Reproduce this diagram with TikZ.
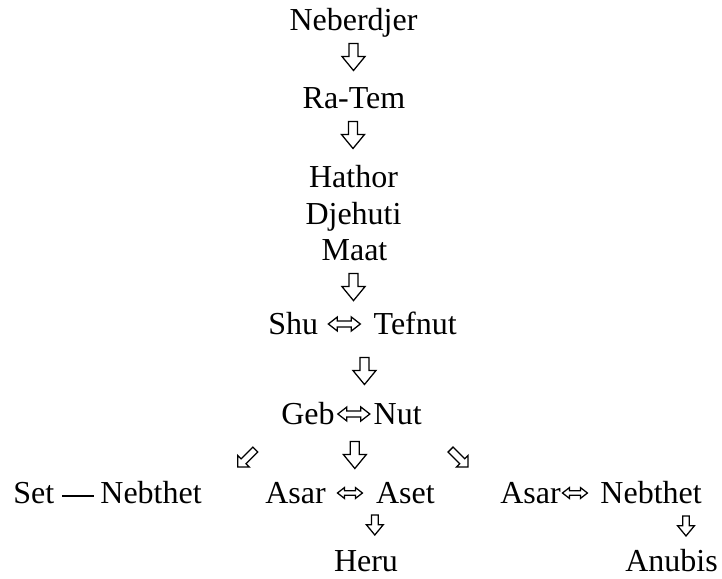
\documentclass[tikz,border=0pt]{standalone}
\usepackage{fontspec}
\setmainfont{Liberation Serif}
\usetikzlibrary{positioning}

\begin{document}
\begin{tikzpicture}[
    x=0.75pt, y=-0.75pt,
    god/.style={inner sep=0pt, font=\fontsize{24}{27.6}\selectfont},
    glyph/.style={draw, line width=0.95pt, line join=miter, fill=white},
    downarr/.pic={\draw[glyph] (-4.5,-13.5) -- (4.5,-13.5) -- (4.5,-0.5) -- (11.5,-0.5) -- (0,13.5) -- (-11.5,-0.5) -- (-4.5,-0.5) -- cycle;},
    diagarr/.pic={\draw[glyph] (-10,10) -- (-10,-1.5) -- (-6.7,1.8) -- (5,-9.9) -- (9.9,-5) -- (-1.8,6.7) -- (1.5,10) -- cycle;},
    lrarr/.pic={\draw[glyph] (-16,0) -- (-7,-7) -- (-7,-3) -- (7,-3) -- (7,-7) -- (16,0) -- (7,7) -- (7,3) -- (-7,3) -- (-7,7) -- cycle;}
]
\useasboundingbox (0,0) rectangle (722,579);

% main line
\node[god, anchor=base] (neberdjer) at (353.5,30) {Neberdjer};
\node[god, anchor=base] (ratem) at (354,108) {Ra-Tem};
\node[god, anchor=base] (hathor) at (353.5,187) {Hathor};
\node[god, anchor=base] (djehuti) at (353.5,224) {Djehuti};
\node[god, anchor=base] (maat) at (354.5,260.6) {Maat};
\node[god, anchor=base west] (shu) at (268,334) {Shu};
\node[god, anchor=base east] (tefnut) at (457,334) {Tefnut};
\node[god, anchor=base west] (geb) at (281,424) {Geb};
\node[god, anchor=base east] (nut) at (422,424) {Nut};

% children
\node[god, anchor=base west] (set) at (13,503) {Set};
\node[god, anchor=base east] (nebthetA) at (202,503) {Nebthet};
\node[god, anchor=base west] (asarA) at (265,503) {Asar};
\node[god, anchor=base east] (aset) at (435,503) {Aset};
\node[god, anchor=base west] (asarB) at (500,503) {Asar};
\node[god, anchor=base east] (nebthetB) at (702,503) {Nebthet};
\node[god, anchor=base] (heru) at (366,571) {Heru};
\node[god, anchor=base east] (anubis) at (718,571) {Anubis};

% arrows
\pic at ([shift={(0,27)}]neberdjer.base) {downarr};
\pic at ([shift={(-1,27)}]ratem.base) {downarr};
\pic at ([shift={(-1,26.5)}]maat.base) {downarr};
\pic at ([shift={(-9,-53)}]nut.base west) {downarr};
\pic at ([shift={(26,-10)}]shu.base east) {lrarr};
\pic at ([shift={(19,-10)}]geb.base east) {lrarr};
\pic at ([shift={(-87,33)}]geb.base east) {diagarr};
\pic at ([shift={(20,31)}]geb.base east) {downarr};
\pic[xscale=-1] at ([shift={(36,33)}]nut.base east) {diagarr};
\draw[line width=0.8pt] ([shift={(8,-7)}]set.base east) -- ([shift={(-6.5,-7)}]nebthetA.base west);
\pic[scale=0.78] at ([shift={(24,-10)}]asarA.base east) {lrarr};
\pic[scale=0.78] at ([shift={(14,-10)}]asarB.base east) {lrarr};
\pic[scale=0.74] at ([shift={(-1,22)}]aset.base west) {downarr};
\pic[scale=0.74] at ([shift={(-16,23)}]nebthetB.base east) {downarr};
\end{tikzpicture}
\end{document}
